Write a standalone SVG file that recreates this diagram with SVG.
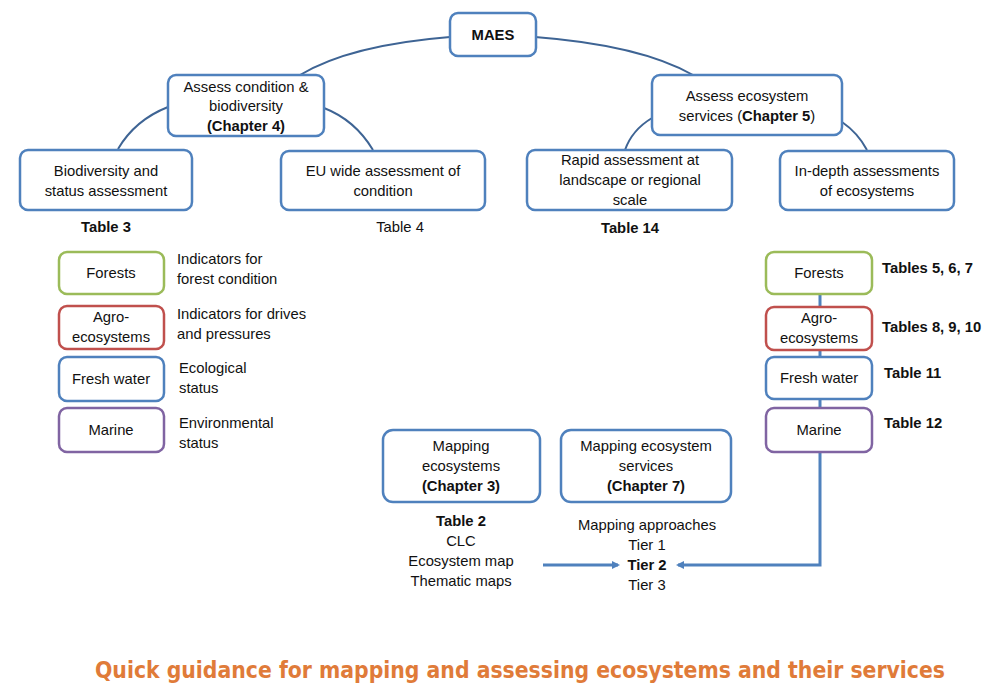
<svg xmlns="http://www.w3.org/2000/svg" width="988" height="693" viewBox="0 0 988 693">
<defs>
<style>
.bx{fill:#fff;stroke:#4F81BD;stroke-width:2.5}
.g{fill:#fff;stroke:#9BBB59;stroke-width:2.5}
.r{fill:#fff;stroke:#C0504D;stroke-width:2.5}
.p{fill:#fff;stroke:#8064A2;stroke-width:2.5}
text{font-family:"Liberation Sans","DejaVu Sans",sans-serif;font-size:14.8px;fill:#111}
.c{text-anchor:middle}
.b{font-weight:bold}
.con{fill:none;stroke:#3E6494;stroke-width:2}
.ar{fill:none;stroke:#4F81BD;stroke-width:3}
.title{font-family:"DejaVu Sans Condensed","DejaVu Sans",sans-serif;font-stretch:condensed;font-weight:bold;font-size:23px;fill:#E07B39}
</style>
<marker id="ah" markerWidth="8" markerHeight="8" refX="6" refY="4" orient="auto" markerUnits="userSpaceOnUse">
<path d="M0,0 L8,4 L0,8 z" fill="#4F81BD"/>
</marker>
</defs>
<rect width="988" height="693" fill="#fff"/>
<g id="connectors">
<path class="con" d="M450,37 Q350,45 300,75"/>
<path class="con" d="M535,37 Q640,45 693,75"/>
<path class="con" d="M168,107 Q135,120 118,149"/>
<path class="con" d="M324,108 Q355,120 373,150"/>
<path class="con" d="M652,118 Q632,130 625,150"/>
<path class="con" d="M842,122 Q858,133 867,150"/>
<path class="ar" d="M820,294 L820,307 M820,350 L820,357 M820,399 L820,408"/>
<path class="ar" d="M820,452 L820,565 L678,565" marker-end="url(#ah)"/>
<path class="ar" d="M543,565 L618,565" marker-end="url(#ah)"/>
</g>
<g id="maes"><rect class="bx" x="450" y="13" width="86" height="43" rx="8"/><text class="c b" x="493" y="40">MAES</text></g>
<g id="assess-condition"><rect class="bx" x="168" y="75" width="156" height="61" rx="8"/>
<text class="c" x="246" y="92">Assess condition &amp;</text><text class="c" x="246" y="111">biodiversity</text><text class="c b" x="246" y="131">(Chapter 4)</text></g>
<g id="biodiversity"><rect class="bx" x="20" y="150" width="172" height="60" rx="8"/>
<text class="c" x="106" y="176">Biodiversity and</text><text class="c" x="106" y="196">status assessment</text></g>
<g id="eu-wide"><rect class="bx" x="281" y="151" width="204" height="59" rx="8"/>
<text class="c" x="383" y="176">EU wide assessment of</text><text class="c" x="383" y="196">condition</text></g>
<g id="assess-es"><rect class="bx" x="652" y="75" width="190" height="60" rx="8"/>
<text class="c" x="747" y="101">Assess ecosystem</text><text class="c" x="747" y="121">services (<tspan class="b">Chapter 5</tspan>)</text></g>
<g id="rapid"><rect class="bx" x="527" y="150" width="205" height="60" rx="8"/>
<text class="c" x="630" y="165">Rapid assessment at</text><text class="c" x="630" y="185">landscape or regional</text><text class="c" x="630" y="205">scale</text></g>
<g id="in-depth"><rect class="bx" x="780" y="151" width="174" height="59" rx="8"/>
<text class="c" x="867" y="176">In-depth assessments</text><text class="c" x="867" y="196">of ecosystems</text></g>
<g id="labels-tables">
<text class="c b" x="106" y="232">Table 3</text>
<text class="c" x="400" y="232">Table 4</text>
<text class="c b" x="630" y="233">Table 14</text>
</g>
<g id="left-forests"><rect class="g" x="59" y="252" width="105" height="42" rx="8"/><text class="c" x="111" y="278">Forests</text></g>
<g id="left-agro"><rect class="r" x="59" y="306" width="105" height="43" rx="8"/><text class="c" x="111" y="322">Agro-</text><text class="c" x="111" y="342">ecosystems</text></g>
<g id="left-fresh"><rect class="bx" x="59" y="357" width="105" height="44" rx="8"/><text class="c" x="111" y="384">Fresh water</text></g>
<g id="left-marine"><rect class="p" x="59" y="408" width="105" height="44" rx="8"/><text class="c" x="111" y="435">Marine</text></g>
<g id="left-desc">
<text x="177" y="264">Indicators for</text><text x="177" y="284">forest condition</text>
<text x="177" y="319">Indicators for drives</text><text x="177" y="339">and pressures</text>
<text x="179" y="373">Ecological</text><text x="179" y="393">status</text>
<text x="179" y="428">Environmental</text><text x="179" y="448">status</text>
</g>
<g id="right-forests"><rect class="g" x="766" y="252" width="106" height="42" rx="8"/><text class="c" x="819" y="278">Forests</text></g>
<g id="right-agro"><rect class="r" x="766" y="307" width="106" height="43" rx="8"/><text class="c" x="819" y="323">Agro-</text><text class="c" x="819" y="343">ecosystems</text></g>
<g id="right-fresh"><rect class="bx" x="766" y="357" width="106" height="42" rx="8"/><text class="c" x="819" y="383">Fresh water</text></g>
<g id="right-marine"><rect class="p" x="766" y="408" width="106" height="44" rx="8"/><text class="c" x="819" y="435">Marine</text></g>
<g id="right-desc">
<text class="b" x="882" y="273">Tables 5, 6, 7</text>
<text class="b" x="882" y="332">Tables 8, 9, 10</text>
<text class="b" x="884" y="378">Table 11</text>
<text class="b" x="884" y="428">Table 12</text>
</g>
<g id="mapping-eco"><rect class="bx" x="383" y="430" width="157" height="72" rx="10"/>
<text class="c" x="461" y="451">Mapping</text><text class="c" x="461" y="471">ecosystems</text><text class="c b" x="461" y="491">(Chapter 3)</text></g>
<g id="mapping-es"><rect class="bx" x="561" y="430" width="170" height="72" rx="10"/>
<text class="c" x="646" y="451">Mapping ecosystem</text><text class="c" x="646" y="471">services</text><text class="c b" x="646" y="491">(Chapter 7)</text></g>
<g id="mapping-eco-list">
<text class="c b" x="461" y="526">Table 2</text><text class="c" x="461" y="546">CLC</text><text class="c" x="461" y="566">Ecosystem map</text><text class="c" x="461" y="586">Thematic maps</text>
</g>
<g id="mapping-es-list">
<text class="c" x="647" y="530">Mapping approaches</text><text class="c" x="647" y="550">Tier 1</text><text class="c b" x="647" y="570">Tier 2</text><text class="c" x="647" y="590">Tier 3</text>
</g>
<text class="title" x="95" y="678" textLength="850" lengthAdjust="spacingAndGlyphs">Quick guidance for mapping and assessing ecosystems and their services</text>
</svg>
